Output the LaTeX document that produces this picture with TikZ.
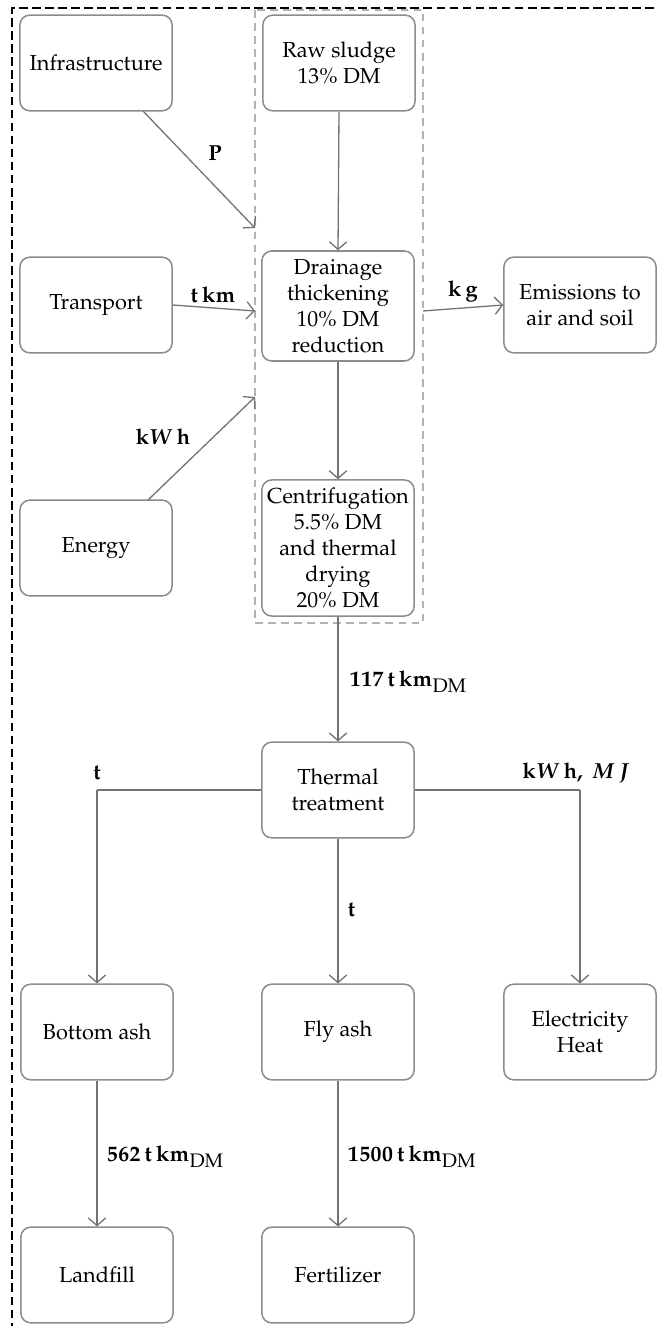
\documentclass[tikz,border=0pt]{standalone}
\usepackage[T1]{fontenc}
\usepackage{mathpazo}
\usetikzlibrary{arrows.meta}
\newcommand{\dmsub}{_{\mbox{\small\normalfont DM}}}
\begin{document}
\begin{tikzpicture}[x=0.46pt,y=-0.46pt,
  box/.style={draw=black!45, line width=0.7pt, rounded corners=4.5pt, align=center,
    minimum width=70pt, minimum height=44pt, inner sep=1pt, font=\normalsize},
  conn/.style={draw=black!55, line width=0.6pt, -{Straight Barb[length=3.5pt,width=8pt]}},
  line/.style={draw=black!55, line width=0.6pt},
  lbl/.style={inner sep=1pt, font=\normalsize\boldmath}]
\useasboundingbox (0,0) rectangle (656,1326);
% outer dashed frame (cropped)
\coordinate (ftr) at (680,8);
\coordinate (ftl) at (12,8);
\coordinate (fbl) at (12,1350);
\draw[dash pattern=on 4pt off 2pt, line width=0.6pt] (ftr) -- (ftl) -- (fbl);
% grey dashed group
\coordinate (g1) at (255,10);
\coordinate (g2) at (423,623);
\draw[black!30, dash pattern=on 3.5pt off 2.5pt, line width=0.5pt] (g1) rectangle (g2);

\node[box] (infra) at (96,63) {Infrastructure};
\node[box] (raw) at (339,63) {Raw sludge\\13\% DM};
\node[box] (trans) at (96,305) {Transport};
\node[box, minimum height=50.6pt] (drain) at (338,306) {Drainage\\thickening\\10\% DM\\reduction};
\node[box] (emis) at (580,305) {Emissions to\\air and soil};
\node[box] (energy) at (96,548) {Energy};
\node[box, minimum height=62.6pt] (centri) at (338,548) {Centrifugation\\5.5\% DM\\and thermal\\drying\\20\% DM};
\node[box] (thermal) at (338,790) {Thermal\\treatment};
\node[box] (bottom) at (97,1032) {Bottom ash};
\node[box] (fly) at (338,1032) {Fly ash};
\node[box] (elec) at (580,1032) {Electricity\\Heat};
\node[box] (landfill) at (97,1275) {Landfill};
\node[box] (fert) at (338,1275) {Fertilizer};

% inputs into group
\coordinate (infraout) at (143,111);
\coordinate (infrain) at (255,228);
\coordinate (transin) at (255,311);
\coordinate (energyout) at (148,500);
\coordinate (energyin) at (255,397);
\coordinate (emisout) at (423,311);
\coordinate (corL) at (97,790);
\coordinate (corR) at (580,790);

\draw[conn] (infraout) -- (infrain);
\draw[conn] (trans.east) -- (transin);
\draw[conn] (energyout) -- (energyin);
\draw[conn] (raw.south) -- (drain.north);
\draw[conn] (emisout) -- (emis.west);
\draw[conn] (drain.south) -- (centri.north);
\draw[conn] (centri.south) -- (thermal.north);
\draw[line] (thermal.west) -- (corL);
\draw[conn] (corL) -- (bottom.north);
\draw[line] (thermal.east) -- (corR);
\draw[conn] (corR) -- (elec.north);
\draw[conn] (thermal.south) -- (fly.north);
\draw[conn] (bottom.south) -- (landfill.north);
\draw[conn] (fly.south) -- (fert.north);

% labels
\node[lbl] (lP) at (215,153) {$\mathbf{P}$};
\node[lbl] (ltkm) at (213,295) {$\mathbf{t\,km}$};
\node[lbl] (lkwh) at (163,437) {$\mathbf{k}W\,\mathbf{h}$};
\node[lbl] (lkg) at (463,292) {$\mathbf{k\,g}$};
\node[lbl, anchor=west] (l117) at (347,682) {$\mathbf{117\,t\,km}\dmsub$};
\node[lbl] (ltL) at (97,773) {$\mathbf{t}$};
\node[lbl] (lkwhmj) at (576,773) {$\mathbf{k}W\,\mathbf{h},\ M\,J$};
\node[lbl, anchor=west] (ltM) at (345,910) {$\mathbf{t}$};
\node[lbl, anchor=west] (l562) at (104,1157) {$\mathbf{562\,t\,km}\dmsub$};
\node[lbl, anchor=west] (l1500) at (345,1157) {$\mathbf{1500\,t\,km}\dmsub$};
\end{tikzpicture}
\end{document}
